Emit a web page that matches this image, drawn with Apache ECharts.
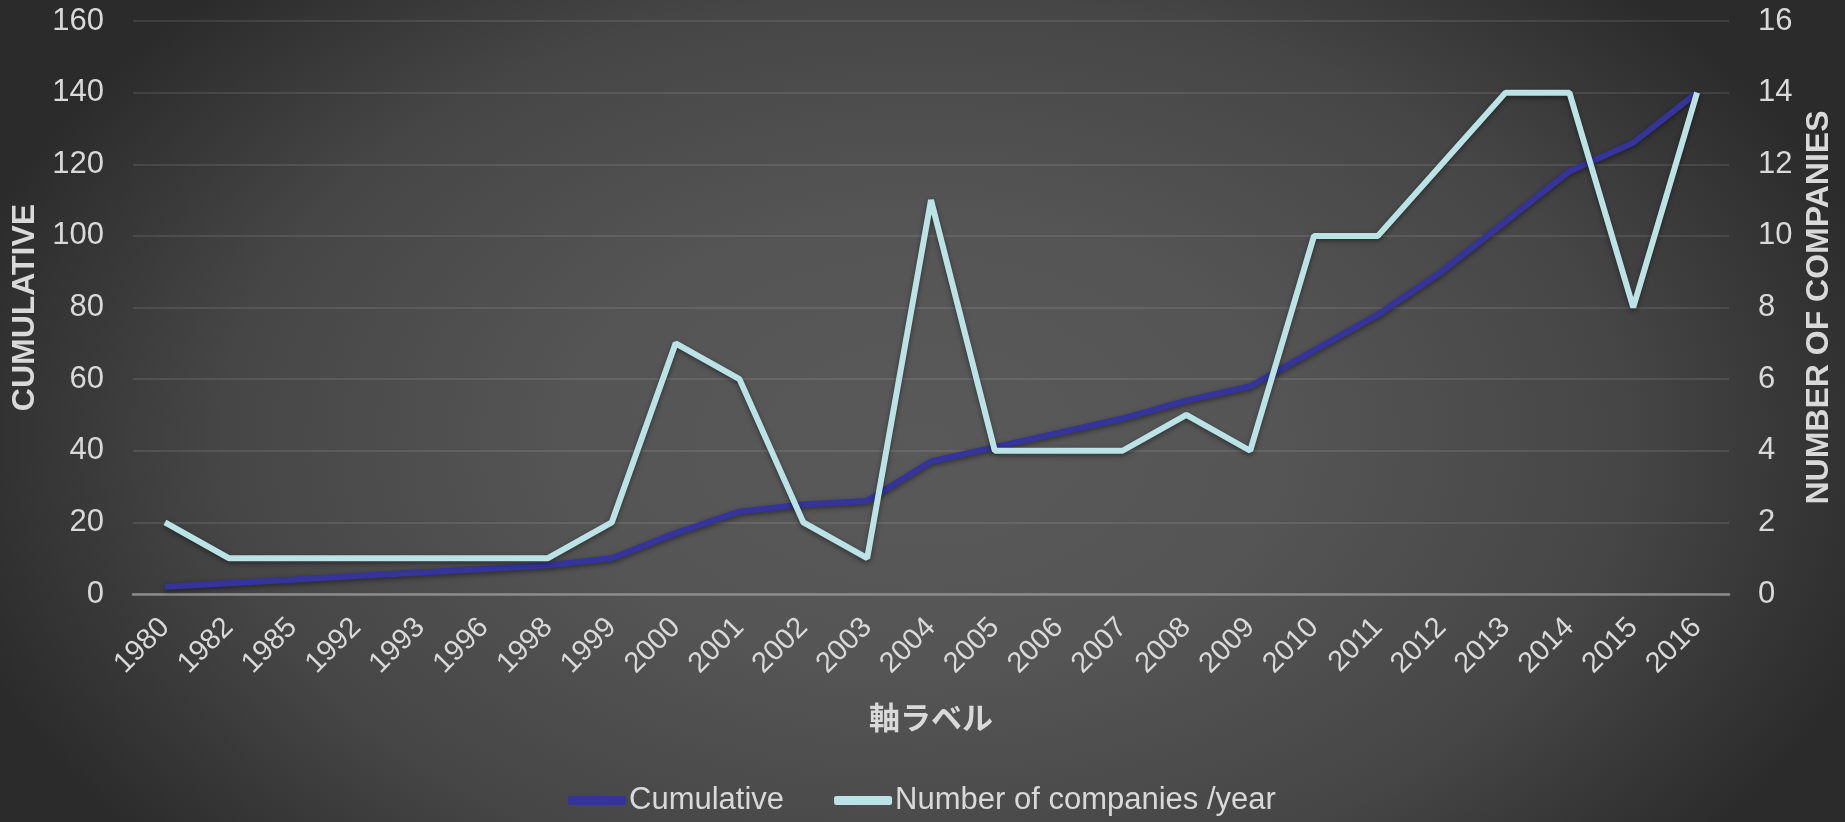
<!DOCTYPE html>
<html>
<head>
<meta charset="utf-8">
<script src="https://cdn.jsdelivr.net/npm/echarts@6/dist/echarts.min.js"></script>
<style>
  html, body { margin: 0; padding: 0; }
  #chart {
    width: 1845px; height: 822px;
    background: radial-gradient(ellipse 1000px 640px at 50% 54%, #595959 0%, #555555 35%, #464646 70%, #2b2b2b 100%);
    background-color: #272727;
  }
</style>
</head>
<body>
<div id="chart"></div>
<script>
// Founding years (category axis)
const years = ['1980','1982','1985','1992','1993','1996','1998','1999','2000','2001','2002','2003',
  '2004','2005','2006','2007','2008','2009','2010','2011','2012','2013','2014','2015','2016'];
// Running total of companies
const cumulative = [2,3,4,5,6,7,8,10,17,23,25,26,37,41,45,49,54,58,68,78,90,104,118,126,140];
// New companies in each year
const perYear = [2,1,1,1,1,1,1,2,7,6,2,1,11,4,4,4,5,4,10,10,12,14,14,8,14];

const FONT = "'Liberation Sans', Arial, sans-serif";
const TEXT = '#d9d9d9';
const GRID = 'rgba(255,255,255,0.13)';

const chart = echarts.init(document.getElementById('chart'), null, { renderer: 'canvas' });

chart.setOption({
  backgroundColor: 'transparent',
  animation: false,
  grid: { left: 133, right: 116, top: 21, bottom: 228, containLabel: false },
  legend: {
    left: 563, top: 780,
    itemWidth: 58, itemHeight: 9, itemGap: 50,
    icon: 'roundRect',
    textStyle: { color: TEXT, fontSize: 31, fontFamily: FONT, padding: [0, 0, 0, -2] },
    data: ['Cumulative', 'Number of companies /year']
  },
  xAxis: {
    type: 'category',
    data: years,
    boundaryGap: true,
    name: '軸ラベル',
    nameLocation: 'middle',
    nameGap: 108,
    nameTextStyle: { color: TEXT, fontSize: 31, fontWeight: 'bold', fontFamily: "'Noto Sans CJK JP', " + FONT },
    axisLine: { lineStyle: { color: '#8c8c8c', width: 2.5 } },
    axisTick: { show: false },
    axisLabel: { color: TEXT, fontSize: 29, fontFamily: FONT, rotate: 45, margin: 29, interval: 0 }
  },
  yAxis: [
    {
      type: 'value', min: 0, max: 160, interval: 20,
      name: 'CUMULATIVE', nameLocation: 'middle', nameRotate: 90, nameGap: 91,
      nameTextStyle: { color: TEXT, fontSize: 32, fontWeight: 'bold', fontFamily: FONT },
      axisLine: { show: false }, axisTick: { show: false },
      axisLabel: { color: TEXT, fontSize: 31, fontFamily: FONT, margin: 29 },
      splitLine: { lineStyle: { color: GRID, width: 1.5 } }
    },
    {
      type: 'value', min: 0, max: 16, interval: 2, position: 'right',
      name: 'NUMBER OF COMPANIES', nameLocation: 'middle', nameRotate: 90, nameGap: 73,
      nameTextStyle: { color: TEXT, fontSize: 32, fontWeight: 'bold', fontFamily: FONT },
      axisLine: { show: false }, axisTick: { show: false },
      axisLabel: { color: TEXT, fontSize: 31, fontFamily: FONT, margin: 29 },
      splitLine: { show: false }
    }
  ],
  series: [
    {
      name: 'Cumulative', type: 'line', yAxisIndex: 0,
      data: cumulative, symbol: 'none',
      itemStyle: { color: '#34349a' },
      lineStyle: { color: '#34349a', width: 6, shadowColor: 'rgba(0,0,0,0.45)', shadowBlur: 5, shadowOffsetY: 2 }
    },
    {
      name: 'Number of companies /year', type: 'line', yAxisIndex: 1,
      data: perYear, symbol: 'none',
      itemStyle: { color: '#bbe3e6' },
      lineStyle: { color: '#bbe3e6', width: 6, shadowColor: 'rgba(0,0,0,0.45)', shadowBlur: 5, shadowOffsetY: 2 }
    }
  ]
});
</script>
</body>
</html>
